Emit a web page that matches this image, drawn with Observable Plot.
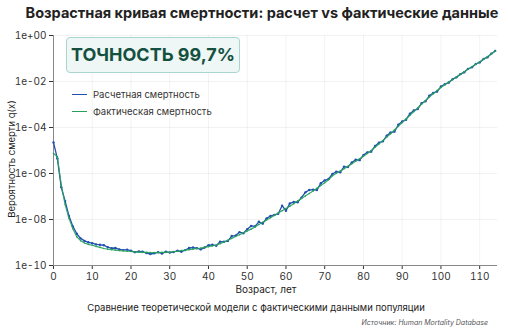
<!DOCTYPE html>
<html>
<head>
<meta charset="utf-8">
<script src="https://cdn.jsdelivr.net/npm/d3@7"></script>
<script src="https://cdn.jsdelivr.net/npm/@observablehq/plot@0.6"></script>
<style>
  html, body { margin: 0; padding: 0; background: #fff; }
  body { width: 508px; height: 328px; overflow: hidden; font-family: Inter, "Noto Sans", sans-serif; }
  #wrap { position: relative; width: 508px; height: 328px; }
  #wrap svg { position: absolute; left: 0; top: 0; }
  .abs { position: absolute; white-space: nowrap; }
  #title { left: 0; width: 524px; top: 4px; text-align: center; font-weight: 700; font-size: 14.5px; color: #222; }
  #badge { left: 66px; top: 37px; width: 172px; height: 34px; border: 1px solid #a8d6cf; border-radius: 4px;
           background: #eef7f5; color: #14503f; font-weight: 700; font-size: 18px; line-height: 34px; text-align: center; }
  .leg { left: 72px; font-size: 9.5px; color: #333; display: flex; align-items: center; }
  .leg i { display: inline-block; width: 15px; height: 0; border-top: 1.6px solid; margin-right: 6px; }
  #xlabel { left: 216px; width: 100px; top: 283px; text-align: center; font-size: 10px; color: #222; }
  #ylabel { left: 11px; top: 159px; font-size: 9.5px; color: #222; transform: translate(-50%, -50%) rotate(-90deg); }
  #caption { left: 0; width: 512px; top: 302px; text-align: center; font-size: 9.5px; color: #222; }
  #source { right: 20px; top: 318px; font-size: 7px; font-style: italic; color: #555; }
</style>
</head>
<body>
<div id="wrap"></div>
<script>
// Ages 0..114
const ages = d3.range(0, 115);

// log10 of the fitted (model) death probability q(x), by age
const logCalculated = [
  -4.65, -5.35, -6.60, -7.20, -7.85, -8.30, -8.62, -8.82, -8.93, -8.99,
  -9.03, -9.08, -9.10, -9.12, -9.20, -9.25, -9.24, -9.30, -9.33, -9.31,
  -9.36, -9.42, -9.39, -9.40, -9.46, -9.50, -9.47, -9.42, -9.48, -9.40,
  -9.44, -9.41, -9.36, -9.40, -9.33, -9.24, -9.22, -9.25, -9.30, -9.22,
  -9.12, -9.10, -9.14, -8.96, -8.97, -8.93, -8.72, -8.70, -8.55, -8.60,
  -8.42, -8.28, -8.30, -8.10, -8.18, -7.95, -7.85, -7.80, -7.75, -7.40,
  -7.62, -7.30, -7.24, -7.25, -7.05, -6.82, -6.72, -6.70, -6.72, -6.42,
  -6.30, -6.24, -6.02, -5.92, -5.95, -5.70, -5.72, -5.52, -5.40, -5.42,
  -5.20, -5.08, -5.05, -4.80, -4.66, -4.60, -4.36, -4.22, -4.18, -3.88,
  -3.74, -3.66, -3.40, -3.26, -3.20, -2.94, -2.86, -2.62, -2.50, -2.44,
  -2.22, -2.12, -2.05, -1.90, -1.82, -1.68, -1.60, -1.45, -1.38, -1.24,
  -1.17, -1.02, -0.95, -0.79, -0.67
];

// log10 of the observed death probability q(x), by age
const logObserved = [
  -5.13, -5.27, -6.50, -7.35, -7.95, -8.40, -8.75, -8.92, -9.02, -9.08,
  -9.12, -9.17, -9.21, -9.26, -9.29, -9.31, -9.33, -9.35, -9.36, -9.38,
  -9.39, -9.41, -9.42, -9.43, -9.43, -9.44, -9.44, -9.44, -9.43, -9.43,
  -9.42, -9.40, -9.38, -9.35, -9.33, -9.31, -9.29, -9.26, -9.24, -9.21,
  -9.18, -9.15, -9.11, -9.05, -8.98, -8.90, -8.82, -8.74, -8.66, -8.58,
  -8.50, -8.42, -8.32, -8.22, -8.12, -8.02, -7.92, -7.82, -7.72, -7.62,
  -7.52, -7.42, -7.31, -7.20, -7.09, -6.98, -6.87, -6.76, -6.64, -6.52,
  -6.40, -6.27, -6.10, -5.99, -5.89, -5.79, -5.69, -5.58, -5.47, -5.36,
  -5.25, -5.13, -5.00, -4.86, -4.72, -4.57, -4.42, -4.27, -4.11, -3.95,
  -3.79, -3.63, -3.47, -3.31, -3.15, -2.99, -2.83, -2.68, -2.53, -2.39,
  -2.26, -2.14, -2.02, -1.91, -1.80, -1.69, -1.58, -1.47, -1.36, -1.25,
  -1.14, -1.03, -0.92, -0.80, -0.68
];

const seriesNames = ["Расчетная смертность", "Фактическая смертность"];
const seriesColors = ["#2150b0", "#26a05c"];
const xTicks = [0, 10, 20, 30, 40, 50, 60, 70, 80, 90, 100, 110];
const yTicks = [1e-10, 1e-8, 1e-6, 1e-4, 1e-2, 1];

const calculated = ages.map((a, i) => ({age: a, q: 10 ** logCalculated[i]}));
const observed = ages.map((a, i) => ({age: a, q: 10 ** logObserved[i]}));

const expLabel = d => {
  const e = Math.round(Math.log10(d));
  return "1e" + (e < 0 ? "-" : "+") + String(Math.abs(e)).padStart(2, "0");
};

const chart = Plot.plot({
  width: 508,
  height: 328,
  marginTop: 35,
  marginBottom: 63,
  marginLeft: 53,
  marginRight: 11,
  style: {fontFamily: "Inter, 'Noto Sans', sans-serif", fontSize: "10px", color: "#333", background: "transparent"},
  x: {domain: [0, 114.6], ticks: xTicks, tickSize: 4, tickPadding: 3, label: null},
  y: {type: "log", domain: [1e-10, 1], ticks: yTicks, tickFormat: expLabel, tickSize: 4, tickPadding: 3, label: null},
  marks: [
    Plot.gridX(xTicks, {stroke: "#000", strokeOpacity: 0.05}),
    Plot.gridY(yTicks, {stroke: "#000", strokeOpacity: 0.05}),
    Plot.ruleX([0], {stroke: "#888"}),
    Plot.ruleY([1e-10], {stroke: "#888"}),
    // model curve underneath, observed curve drawn over it
    Plot.line(calculated, {x: "age", y: "q", stroke: seriesColors[0], strokeWidth: 1.3}),
    Plot.dot(calculated, {x: "age", y: "q", fill: seriesColors[0], r: 1.2}),
    Plot.line(observed, {x: "age", y: "q", stroke: seriesColors[1], strokeWidth: 1.2, strokeOpacity: 0.9}),
    Plot.dot(observed, {x: "age", y: "q", fill: seriesColors[1], r: 0.8})
  ]
});

const wrap = document.getElementById("wrap");
wrap.appendChild(chart);

const html = `
  <div class="abs" id="title">Возрастная кривая смертности: расчет vs фактические данные</div>
  <div class="abs" id="badge">ТОЧНОСТЬ 99,7%</div>
  <div class="abs leg" style="top:89px"><i style="border-color:${seriesColors[0]}"></i>${seriesNames[0]}</div>
  <div class="abs leg" style="top:106px"><i style="border-color:${seriesColors[1]}"></i>${seriesNames[1]}</div>
  <div class="abs" id="ylabel">Вероятность смерти q(x)</div>
  <div class="abs" id="xlabel">Возраст, лет</div>
  <div class="abs" id="caption">Сравнение теоретической модели с фактическими данными популяции</div>
  <div class="abs" id="source">Источник: Human Mortality Database</div>`;
wrap.insertAdjacentHTML("beforeend", html);
</script>
</body>
</html>
